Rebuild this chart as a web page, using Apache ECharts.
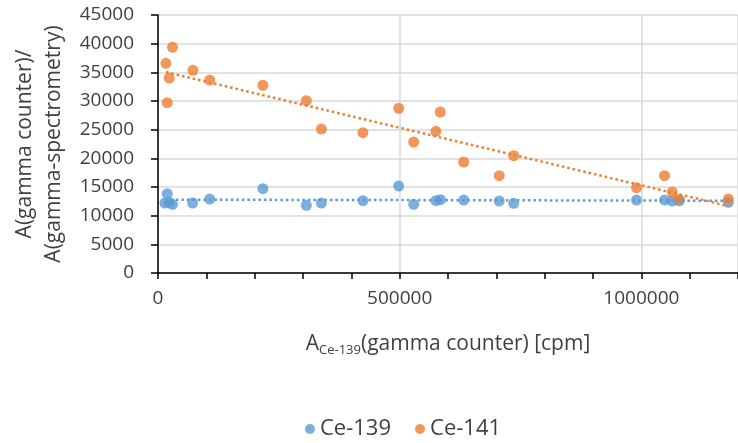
<!DOCTYPE html>
<html>
<head>
<meta charset="utf-8">
<script src="https://cdn.jsdelivr.net/npm/echarts@6/dist/echarts.min.js"></script>
<style>
	html, body { margin: 0; padding: 0; background: #fff; }
	#chart { width: 738px; height: 443px; }
</style>
</head>
<body>
<div id="chart"></div>
<script type="text/javascript">

	var ce139X = [14300, 19100, 23200, 30000, 71700, 107000, 217000, 307000, 338000, 424000, 498000,
		529000, 575000, 584500, 632500, 706000, 736000, 990000, 1048000, 1064000, 1078500, 1180000];
	var ce139Y = [12210, 13830, 12300, 11980, 12210, 12900, 14700, 11800, 12210, 12610, 15170,
		11980, 12610, 12780, 12730, 12560, 12150, 12730, 12730, 12560, 12600, 12330];

	var ce141X = [16400, 19100, 23200, 30000, 72400, 107000, 217000, 307000, 338000, 424000, 498000,
		529000, 575000, 584000, 632500, 706000, 736000, 990000, 1048000, 1064000, 1078500, 1180000];
	var ce141Y = [36570, 29700, 34000, 39360, 35350, 33660, 32730, 30050, 25110, 24470, 28720,
		22850, 24710, 28080, 19360, 16970, 20460, 14880, 16970, 14130, 12850, 12900];

	var seriesNames = ['Ce-139', 'Ce-141'];
	var colors = ['#5B9BD5', '#ED7D31'];

	function pairs(xs, ys) {
		return xs.map(function (x, i) { return [x, ys[i]]; });
	}

	// least squares linear trendline, from min x to max x
	function trend(xs, ys) {
		var n = xs.length, sx = 0, sy = 0, sxx = 0, sxy = 0;
		for (var i = 0; i < n; i++) {
			sx += xs[i]; sy += ys[i]; sxx += xs[i] * xs[i]; sxy += xs[i] * ys[i];
		}
		var b = (n * sxy - sx * sy) / (n * sxx - sx * sx);
		var a = (sy - b * sx) / n;
		var x0 = Math.min.apply(null, xs), x1 = Math.max.apply(null, xs);
		return [[x0, a + b * x0], [x1, a + b * x1]];
	}

	function plain(v) { return String(v); }

	var font = 'Open Sans';
	var textColor = '#404040';

	var chart = echarts.init(document.getElementById('chart'));
	chart.setOption({
		animation: false,
		textStyle: { fontFamily: font },
		legend: {
			data: seriesNames,
			bottom: -2,
			left: 300,
			icon: 'circle',
			itemWidth: 10,
			itemHeight: 10,
			itemGap: 24,
			textStyle: { fontSize: 22, color: textColor, fontFamily: font }
		},
		grid: { left: 158, top: 15, width: 586, bottom: 170 },
		xAxis: {
			type: 'value',
			min: 0,
			max: 1200000,
			interval: 500000,
			name: '{a|A}{s|Ce-139}{a|(gamma counter) [cpm]}',
			nameLocation: 'middle',
			nameGap: 58,
			nameTextStyle: {
				rich: {
					a: { fontSize: 21, color: textColor, fontFamily: font },
					s: { fontSize: 13, color: textColor, fontFamily: font, verticalAlign: 'bottom', padding: [13, 0, 0, 0] }
				}
			},
			axisLine: { lineStyle: { color: '#000', width: 1.5 } },
			axisTick: { show: true, length: 6, lineStyle: { color: '#000', width: 1.5 } },
			minorTick: { show: true, splitNumber: 5, length: 6, lineStyle: { color: '#000', width: 1.5 } },
			axisLabel: { fontSize: 19, color: textColor, margin: 16, showMaxLabel: false, formatter: plain },
			splitLine: { lineStyle: { color: '#D9D9D9', width: 1.5 } }
		},
		yAxis: {
			type: 'value',
			min: 0,
			max: 45000,
			interval: 5000,
			name: 'A(gamma counter)/\nA(gamma-spectrometry)',
			nameLocation: 'middle',
			nameRotate: 90,
			nameGap: 86,
			nameTextStyle: { fontSize: 21, color: textColor, lineHeight: 29 },
			axisLine: { show: true, lineStyle: { color: '#000', width: 1.5 } },
			axisTick: { show: true, length: 7, lineStyle: { color: '#000', width: 1.5 } },
			axisLabel: { fontSize: 19, color: textColor, margin: 24, formatter: plain },
			splitLine: { lineStyle: { color: '#D9D9D9', width: 1.5 } }
		},
		series: [
			{
				name: seriesNames[0],
				type: 'scatter',
				symbolSize: 11,
				itemStyle: { color: colors[0] },
				data: pairs(ce139X, ce139Y)
			},
			{
				name: seriesNames[1],
				type: 'scatter',
				symbolSize: 11,
				itemStyle: { color: colors[1] },
				data: pairs(ce141X, ce141Y)
			},
			{
				type: 'line',
				silent: true,
				symbol: 'none',
				lineStyle: { color: colors[0], width: 2.5, type: [2.5, 3] },
				data: trend(ce139X, ce139Y)
			},
			{
				type: 'line',
				silent: true,
				symbol: 'none',
				lineStyle: { color: colors[1], width: 2.5, type: [2.5, 3] },
				data: trend(ce141X, ce141Y)
			}
		]
	});

</script>
</body>
</html>
